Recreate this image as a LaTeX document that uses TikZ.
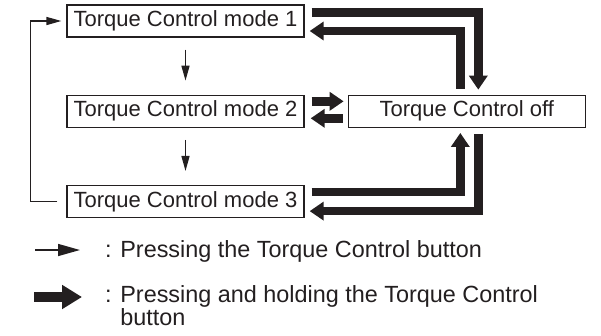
\documentclass[tikz,border=0pt]{standalone}
\usepackage{fontspec}
\setmainfont{Liberation Sans}
\usetikzlibrary{arrows.meta,positioning}
\definecolor{tcink}{HTML}{231F20}

\begin{document}
\begin{tikzpicture}[
  x=1pt, y=1pt,
  font=\fontsize{22}{26}\selectfont,
  node distance=57pt and 43pt,
  box/.style={rectangle, draw=tcink, line width=1.3pt, minimum width=237pt,
    minimum height=32pt, inner sep=0pt, text=tcink},
  arr/.style={-{Triangle[length=15pt,width=8pt]}, tcink, line width=1.5pt},
  fatarr/.style={-{Triangle[length=14pt,width=18pt]}, tcink, line width=8.5pt},
  legtext/.style={anchor=base west, align=left, inner sep=0pt, text=tcink,
    font=\fontsize{23.4}{23}\selectfont},
]
  \useasboundingbox (0,0) rectangle (601,-335);

  \node[box] (m1) at (185.5,-21) {Torque Control mode 1};
  \node[box, below=of m1] (m2) {Torque Control mode 2};
  \node[box, below=of m2] (m3) {Torque Control mode 3};
  \node[box, right=of m2] (off) {Torque Control off};

  % short presses
  \draw[arr, shorten <=12pt, shorten >=14pt] (m1) -- (m2);
  \draw[arr, shorten <=12pt, shorten >=14pt] (m2) -- (m3);
  \draw[arr] ([xshift=-9pt]m3.west) -- ++(-27,0) |- ([xshift=-5pt]m1.west);

  % press and hold
  \draw[fatarr] ([xshift=7pt,yshift=8.5pt]m1.east) -| ([xshift=11.5pt,yshift=5pt]off.north);
  \draw[fatarr] ([xshift=-6.5pt,yshift=6pt]off.north) |- ([xshift=5pt,yshift=-10pt]m1.east);
  \draw[fatarr] ([xshift=7pt,yshift=10pt]m2.east) -- ([xshift=-4pt,yshift=10pt]off.west);
  \draw[fatarr] ([xshift=-5pt,yshift=-7pt]off.west) -- ([xshift=6pt,yshift=-7pt]m2.east);
  \draw[fatarr] ([xshift=7pt,yshift=9.5pt]m3.east) -| ([xshift=-6.5pt,yshift=-5pt]off.south);
  \draw[fatarr] ([xshift=11.5pt,yshift=-6pt]off.south) |- ([xshift=5pt,yshift=-9.5pt]m3.east);

  % legend
  \coordinate (thinA) at (35,-250);
  \coordinate (thinB) at (80,-250);
  \coordinate (fatA) at (34,-297);
  \coordinate (fatB) at (82,-297);
  \draw[tcink, line width=1.5pt, -{Triangle[length=22pt,width=12pt]}] (thinA) -- (thinB);
  \draw[tcink, line width=10pt, -{Triangle[length=20pt,width=23pt]}] (fatA) -- (fatB);
  \node[legtext] (lthin) at (105,-257) {: Pressing the Torque Control button};
  \node[legtext] (lfat) at (105,-325) {: Pressing and holding the Torque Control\\\hphantom{: }button};
\end{tikzpicture}
\end{document}
